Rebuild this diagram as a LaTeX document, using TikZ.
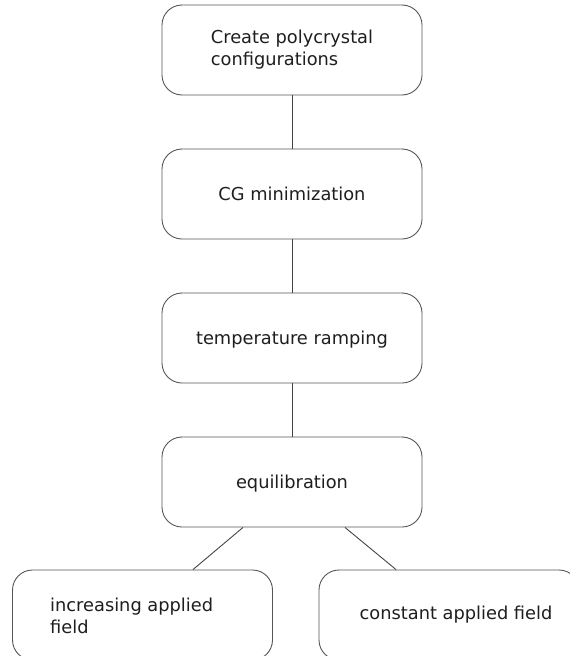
\documentclass[tikz,border=0pt]{standalone}
\usepackage{fontspec}
\setmainfont{DejaVu Sans}
\definecolor{boxline}{HTML}{555555}
\definecolor{conn}{HTML}{444444}
\definecolor{txt}{HTML}{1E1E1E}
\begin{document}
\begin{tikzpicture}[x=1pt,y=-1pt,
  box/.style={draw=boxline, line width=0.9pt, rounded corners=20pt, minimum width=260pt, minimum height=90pt, inner sep=0pt, align=left, text=txt, font=\fontsize{17.8}{22}\selectfont},
  one/.style={text height=12pt, text depth=0pt},
  lbl/.style={inner sep=0pt, align=left, text=txt, font=\fontsize{17.8}{22}\selectfont},
  link/.style={draw=conn, line width=0.9pt}]
\useasboundingbox (0,0) rectangle (570,656);
\clip (0,0) rectangle (570,656);
\node[box] (b1) at (292,50) {Create polycrystal\\configurations};
\node[box, one] (b2) at (292,194) {CG minimization};
\node[box, one] (b3) at (292,338) {temperature ramping};
\node[box, one] (b4) at (292,482) {equilibration};
\node[box] (b5) at (142.5,615) {};
\node[box] (b6) at (449,615) {};
\node[lbl, anchor=west] (t5) at (50,616) {increasing applied\\field};
\node[lbl, one] (t6) at (456,613) {constant applied field};
\draw[link] (b1.south) -- (b2.north);
\draw[link] (b2.south) -- (b3.north);
\draw[link] (b3.south) -- (b4.north);
\draw[link] ([xshift=-49pt]b4.south) -- ([xshift=50.5pt]b5.north);
\draw[link] ([xshift=53pt]b4.south) -- ([xshift=-53pt]b6.north);
\end{tikzpicture}
\end{document}
